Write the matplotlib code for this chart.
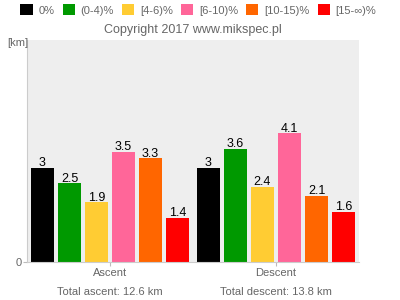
import numpy as np
import matplotlib
matplotlib.use('Agg')
import matplotlib.pyplot as plt
from matplotlib.patches import Patch

plt.rcParams['font.family'] = ['Liberation Sans', 'DejaVu Sans']

# data
groups = ['Ascent', 'Descent']
totals = ['Total ascent: 12.6 km', 'Total descent: 13.8 km']
classes = ['0%', '(0-4)%', '[4-6)%', '[6-10)%', '[10-15)%', '[15-∞)%']
colors = ['#000000', '#009900', '#ffcc33', '#ff6699', '#ff6600', '#ff0000']
ascent = [3, 2.5, 1.9, 3.5, 3.3, 1.4]
descent = [3, 3.6, 2.4, 4.1, 2.1, 1.6]
labels_asc = ['3', '2.5', '1.9', '3.5', '3.3', '1.4']
labels_desc = ['3', '3.6', '2.4', '4.1', '2.1', '1.6']

grey = '#666666'
fig = plt.figure(figsize=(4, 3), dpi=100)
ax = fig.add_axes([0.0675, 0.1267, 0.83, 0.74])
ax.set_facecolor('#eeeeee')

x = np.arange(len(groups))
step = 0.1627
width = 0.1386
for i in range(len(classes)):
    vals = [ascent[i], descent[i]]
    labs = [labels_asc[i], labels_desc[i]]
    pos = x + (i - 2.5) * step
    bars = ax.bar(pos, vals, width, color=colors[i], edgecolor='none', zorder=2)
    ax.bar_label(bars, labels=labs, padding=-1, fontsize=9, color='black')

ax.set_xlim(-0.5, 1.5)
ax.set_ylim(0, 7.07)
ax.set_xticks(x)
ax.set_xticklabels(groups, fontsize=8, color=grey)
ax.set_yticks([0])
ax.set_yticklabels(['0'], fontsize=8, color=grey)
ax.tick_params(axis='both', length=3, color='#bbbbbb', pad=1)
for s in ['top', 'right']:
    ax.spines[s].set_visible(False)
for s in ['left', 'bottom']:
    ax.spines[s].set_color('#cccccc')

# group totals below the tick labels
for xi, t in zip(x, totals):
    ax.annotate(t, xy=(xi, 0), xycoords=('data', 'axes fraction'),
                xytext=(0, -21.5), textcoords='offset points',
                ha='center', va='center', fontsize=8, color=grey)

fig.text(0.045, 0.855, '[km]', fontsize=8, color=grey, ha='center', va='center')
fig.text(0.483, 0.9, 'Copyright 2017 www.mikspec.pl', fontsize=9,
         color=grey, ha='center', va='center')

handles = [Patch(facecolor=c, edgecolor='none') for c in colors]
leg = fig.legend(handles, classes, loc='upper left', bbox_to_anchor=(0.04, 1.0),
                 ncol=6, frameon=False, fontsize=8, handlelength=1.1,
                 handleheight=1.1, handletextpad=0.5, columnspacing=0.75,
                 borderaxespad=0)
for t in leg.get_texts():
    t.set_color(grey)

fig.savefig('out.png', dpi=100)
